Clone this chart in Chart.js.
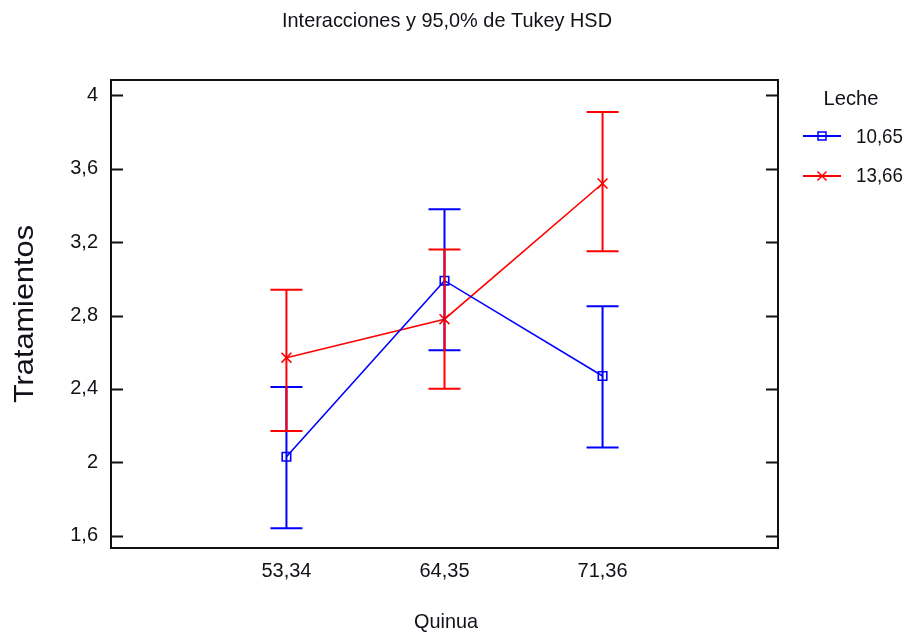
<!DOCTYPE html>
<html>
<head>
<meta charset="utf-8">
<title>Interacciones y 95,0% de Tukey HSD</title>
<script src="https://cdn.jsdelivr.net/npm/chart.js@4.4.1/dist/chart.umd.min.js"></script>
<style>
  html, body { margin: 0; padding: 0; background: #ffffff; }
  #wrap { width: 907px; height: 632px; position: relative; }
  #chart { filter: blur(0.35px); }
</style>
</head>
<body>
<div id="wrap"><canvas id="chart" width="907" height="632"></canvas></div>
<script>
// Quinua levels on the x axis (drawn at positions 1..3)
const categories = ['53,34', '64,35', '71,36'];
const categoryPositions = [1, 2, 3];

// Leche levels (legend entries)
const seriesNames = ['10,65', '13,66'];

// Means and Tukey HSD interval limits, Leche = 10,65
const meanA = [2.03, 2.99, 2.47];
const lowA  = [1.64, 2.61, 2.08];
const highA = [2.41, 3.38, 2.85];

// Means and Tukey HSD interval limits, Leche = 13,66
const meanB = [2.57, 2.78, 3.52];
const lowB  = [2.17, 2.40, 3.15];
const highB = [2.94, 3.16, 3.91];

// Y axis ticks
const yTickValues = [1.6, 2, 2.4, 2.8, 3.2, 3.6, 4];
const yTickLabels = ['1,6', '2', '2,4', '2,8', '3,2', '3,6', '4'];

const TEXT = '#111118';
const FONT = "'Liberation Sans', Arial, sans-serif";

function points(means) {
  return means.map((v, i) => ({ x: categoryPositions[i], y: v }));
}

// draws a string squeezed/stretched to a given width
function fitText(ctx, txt, x, y, size, width, align) {
  ctx.save();
  ctx.font = size + 'px ' + FONT;
  const w = ctx.measureText(txt).width;
  const s = width / w;
  ctx.translate(x, y);
  ctx.scale(s, 1);
  ctx.textAlign = align || 'center';
  ctx.textBaseline = 'alphabetic';
  ctx.fillText(txt, 0, 0);
  ctx.restore();
}

function drawMarker(ctx, style, x, y, r) {
  ctx.beginPath();
  if (style === 'rect') {
    ctx.rect(x - r, y - r, 2 * r, 2 * r);
  } else {
    ctx.moveTo(x - r, y - r); ctx.lineTo(x + r, y + r);
    ctx.moveTo(x + r, y - r); ctx.lineTo(x - r, y + r);
  }
  ctx.stroke();
}

// Tukey intervals: vertical line with caps at the low/high limits
const errorBars = {
  id: 'errorBars',
  afterDatasetsDraw(chart) {
    const ctx = chart.ctx;
    const xs = chart.scales.x, ys = chart.scales.y;
    ctx.save();
    chart.data.datasets.forEach(ds => {
      ctx.strokeStyle = ds.borderColor;
      ctx.lineWidth = 2;
      ds.low.forEach((lo, i) => {
        const px = xs.getPixelForValue(categoryPositions[i]);
        const pl = ys.getPixelForValue(lo);
        const ph = ys.getPixelForValue(ds.high[i]);
        ctx.beginPath();
        ctx.moveTo(px, pl); ctx.lineTo(px, ph);
        ctx.moveTo(px - 16, pl); ctx.lineTo(px + 16, pl);
        ctx.moveTo(px - 16, ph); ctx.lineTo(px + 16, ph);
        ctx.stroke();
      });
    });
    ctx.restore();
  }
};

// frame, inward ticks, titles and legend
const decorations = {
  id: 'decorations',
  afterDraw(chart) {
    const ctx = chart.ctx;
    const a = chart.chartArea;
    const ys = chart.scales.y;
    ctx.save();
    ctx.strokeStyle = '#111';
    ctx.lineWidth = 2;
    ctx.strokeRect(a.left, a.top, a.right - a.left, a.bottom - a.top);
    ctx.beginPath();
    yTickValues.forEach(v => {
      const py = Math.round(ys.getPixelForValue(v)) + 0.5;
      ctx.moveTo(a.left, py); ctx.lineTo(a.left + 12, py);
      ctx.moveTo(a.right, py); ctx.lineTo(a.right - 12, py);
    });
    ctx.stroke();

    ctx.fillStyle = TEXT;
    fitText(ctx, 'Interacciones y 95,0% de Tukey HSD', 447, 27, 21, 330);
    fitText(ctx, 'Quinua', 446, 628, 21, 64);

    ctx.save();
    ctx.translate(33, 314);
    ctx.rotate(-Math.PI / 2);
    fitText(ctx, 'Tratamientos', 0, 0, 28, 178);
    ctx.restore();

    // legend
    fitText(ctx, 'Leche', 851, 105, 21, 55);
    const legendRows = [136, 176];
    const legendText = [143, 182];
    chart.data.datasets.forEach((ds, i) => {
      const y = legendRows[i];
      ctx.strokeStyle = ds.borderColor;
      ctx.lineWidth = 2;
      ctx.beginPath();
      ctx.moveTo(803, y); ctx.lineTo(841, y);
      ctx.stroke();
      ctx.lineWidth = 1.5;
      drawMarker(ctx, ds.pointStyle, 822, y, ds.pointStyle === 'rect' ? 4 : 4.5);
      ctx.fillStyle = TEXT;
      fitText(ctx, ds.label, 856, legendText[i], 21, 47, 'left');
    });
    ctx.restore();
  }
};

new Chart(document.getElementById('chart'), {
  type: 'line',
  data: {
    datasets: [
      {
        label: seriesNames[0],
        data: points(meanA),
        low: lowA, high: highA,
        borderColor: '#0000ff',
        backgroundColor: 'rgba(0,0,0,0)',
        borderWidth: 1.6,
        pointStyle: 'rect',
        pointRadius: 6,
        pointBorderWidth: 1.6,
        pointBackgroundColor: 'rgba(0,0,0,0)',
        pointBorderColor: '#0000ff',
        tension: 0
      },
      {
        label: seriesNames[1],
        data: points(meanB),
        low: lowB, high: highB,
        borderColor: '#ff0000',
        backgroundColor: 'rgba(0,0,0,0)',
        borderWidth: 1.6,
        pointStyle: 'crossRot',
        pointRadius: 7,
        pointBorderWidth: 1.6,
        pointBorderColor: '#ff0000',
        tension: 0
      }
    ]
  },
  options: {
    responsive: false,
    animation: false,
    layout: { padding: { left: 0, top: 80, right: 129, bottom: 0 } },
    plugins: {
      legend: { display: false },
      title: { display: false },
      tooltip: { enabled: false }
    },
    scales: {
      x: {
        type: 'linear',
        min: -0.11,
        max: 4.11,
        grid: { display: false, drawTicks: false },
        border: { display: false },
        afterBuildTicks(scale) { scale.ticks = categoryPositions.map(v => ({ value: v })); },
        afterFit(scale) { scale.height = 84; },
        ticks: {
          padding: 11,
          color: TEXT,
          font: { family: FONT, size: 20 },
          callback: v => categories[categoryPositions.indexOf(v)]
        }
      },
      y: {
        type: 'linear',
        min: 1.532,
        max: 4.0845,
        grid: { display: false, drawTicks: false },
        border: { display: false },
        afterBuildTicks(scale) { scale.ticks = yTickValues.map(v => ({ value: v })); },
        afterFit(scale) { scale.width = 111; },
        ticks: {
          padding: 13,
          color: TEXT,
          font: { family: FONT, size: 20 },
          callback: v => yTickLabels[yTickValues.indexOf(v)]
        }
      }
    }
  },
  plugins: [errorBars, decorations]
});
</script>
</body>
</html>
